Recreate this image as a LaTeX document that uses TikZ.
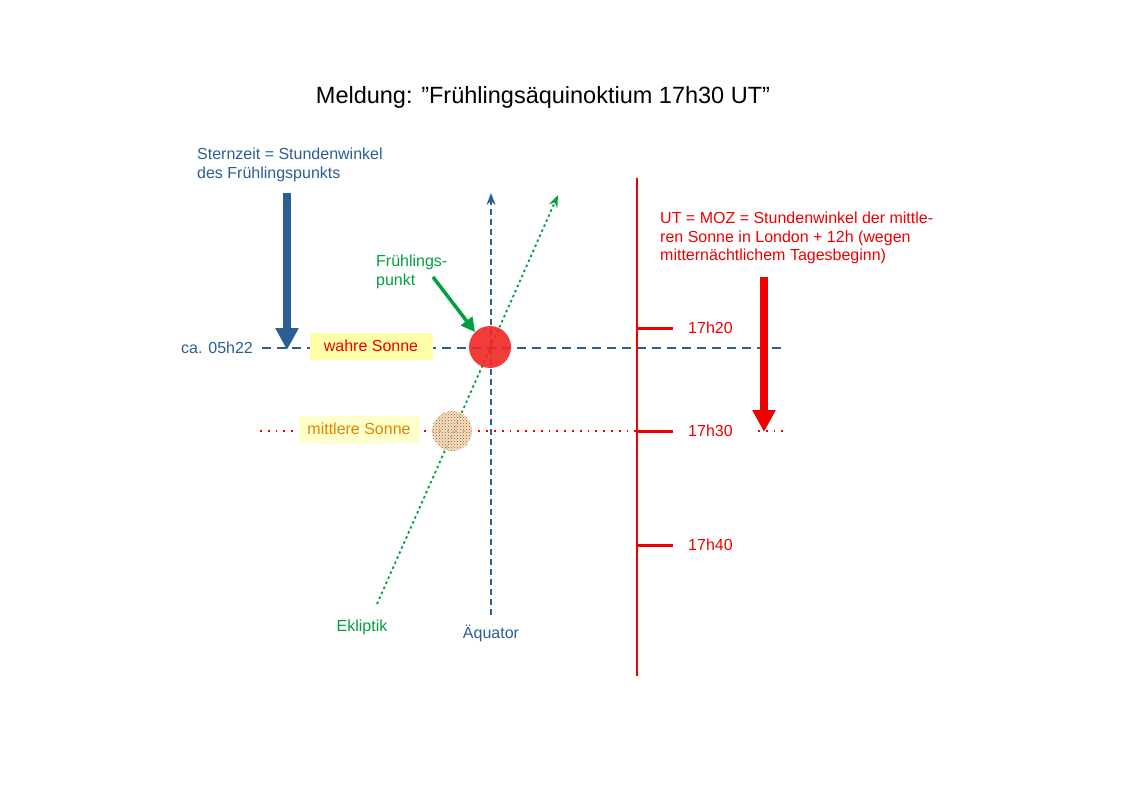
\documentclass[tikz,border=0pt]{standalone}
\usepackage{fontspec}
\defaultfontfeatures{}
\setmainfont{Liberation Sans}
\usetikzlibrary{arrows.meta, patterns, positioning}
\definecolor{aqblue}{RGB}{44,94,150}
\definecolor{ekgreen}{RGB}{0,160,60}
\definecolor{utred}{RGB}{238,0,0}
\definecolor{sunorange}{RGB}{230,130,0}
\definecolor{boxyellow}{RGB}{255,255,170}
\definecolor{paleyellow}{RGB}{255,255,204}

\begin{document}
\begin{tikzpicture}[
    x=1pt, y=-1pt,
    lbl/.style={font=\fontsize{16}{18.5}\selectfont, inner sep=0pt},
    box/.style={font=\fontsize{16}{18}\selectfont, minimum height=27pt, inner sep=6pt},
    bigarrow/.style={line width=8pt, -{Triangle[length=22pt, width=22pt]}},
    tick/.style={utred, line width=3pt}
]
    \useasboundingbox (0,0) rectangle (1123,794);

    % Title
    \node[font=\fontsize{23.5}{26}\selectfont] (title) at (543,97) {Meldung: \symbol{"22}Frühlingsäquinoktium 17h30 UT\symbol{"22}};

    % Sidereal time
    \node[lbl, text=aqblue, align=left, anchor=north west] (stz) at (197,148) {Sternzeit = Stundenwinkel\\des Frühlingspunkts};
    \coordinate (stztop) at (287,193);
    \coordinate (stzend) at (287,350);
    \draw[bigarrow, aqblue] (stztop) -- (stzend);
    \node[lbl, text=aqblue] (ca) at (217,348) {ca. 05h22};

    % Equator and hour lines
    \coordinate (eqw) at (262,348);
    \coordinate (eqe) at (785,348);
    \draw[aqblue, line width=1.8pt, dash pattern=on 9pt off 6pt] (eqw) -- (eqe);
    \coordinate (aqs) at (491,615);
    \coordinate (aqn) at (491,193);
    \draw[aqblue, line width=1.6pt, dash pattern=on 6pt off 4pt, -{Stealth[length=12pt, width=9pt]}] (aqs) -- (aqn);
    \coordinate (mw) at (260,431);
    \coordinate (mm) at (637,431);
    \coordinate (mr) at (758,431);
    \coordinate (me) at (785,431);
    \draw[utred, line width=1.8pt, dash pattern=on 1.8pt off 6pt] (mw) -- (mm) (mr) -- (me);
    \coordinate (eks) at (377,604);
    \coordinate (ekn) at (558,195);
    \draw[ekgreen, line width=1.8pt, dash pattern=on 2.5pt off 3pt, -{Stealth[length=12pt, width=9pt]}] (eks) -- (ekn);

    % Suns
    \node[box, fill=boxyellow, text=utred, minimum width=123pt] (wahr) at (371,346) {wahre Sonne};
    \node[circle, fill=utred!85, opacity=0.9, minimum size=42pt, inner sep=0pt] (wsun) at (490,347) {};
    \node[box, fill=paleyellow, text=sunorange, minimum width=121pt] (mittl) at (359,429) {mittlere Sonne};
    \fill[sunorange!30, opacity=0.8] (452,431) circle[radius=20pt];
    \node[circle, pattern=crosshatch dots, pattern color=brown!70!black, minimum size=40pt, inner sep=0pt] (msun) at (452,431) {};

    % Vernal point
    \node[lbl, text=ekgreen, align=left, anchor=north west] (fp) at (376,255) {Frühlings-\\punkt};
    \coordinate (fpstart) at (433,277);
    \draw[ekgreen, line width=3.5pt, -{Triangle[length=14pt, width=14pt]}] (fpstart) -- (wsun.north west);

    % UT scale
    \coordinate (uttop) at (637,178);
    \coordinate (utbot) at (637,676);
    \draw[utred, line width=2.5pt] (uttop) -- (utbot);
    \foreach \y/\t in {328/17h20, 431/17h30, 545/17h40} {
        \draw[tick] (637,\y) -- (673,\y);
        \node[lbl, text=utred, anchor=west] at (688,\y) {\t};
    }
    \node[lbl, text=utred, align=left, anchor=north west] (ut) at (660,212) {UT = MOZ = Stundenwinkel der mittle-\\ren Sonne in London + 12h (wegen\\mitternächtlichem Tagesbeginn)};
    \coordinate (uttop2) at (764,277);
    \coordinate (utend) at (764,432);
    \draw[bigarrow, utred] (uttop2) -- (utend);

    % Labels
    \node[lbl, text=ekgreen] (ekl) at (362,627) {Ekliptik};
    \node[lbl, text=aqblue] (aql) at (491,633) {Äquator};
\end{tikzpicture}
\end{document}
